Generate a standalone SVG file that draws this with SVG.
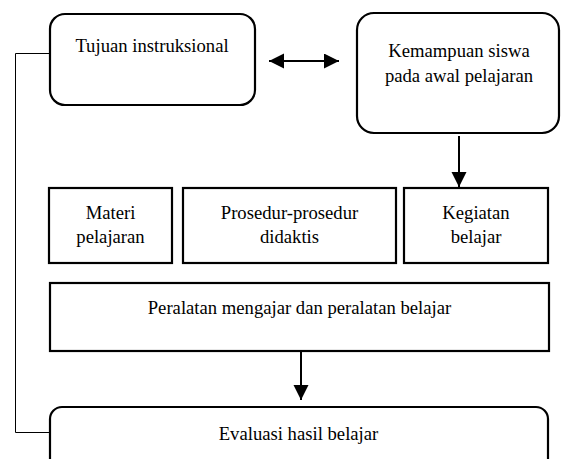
<svg xmlns="http://www.w3.org/2000/svg" width="562" height="459" viewBox="0 0 562 459">
<defs>
<style>
.box{fill:#fff;stroke:#000;stroke-width:2.2}
.t{font-family:"Liberation Serif","Times New Roman",serif;font-size:18.67px;fill:#000;text-anchor:middle}
.c{fill:none;stroke:#000;stroke-width:2}
.thin{fill:none;stroke:#000;stroke-width:1}
</style>
<marker id="ah" markerUnits="userSpaceOnUse" markerWidth="16" markerHeight="16" refX="15" refY="7.5" orient="auto-start-reverse" viewBox="0 0 16 16">
<path d="M0,0 L15,7.5 L0,15 Z" fill="#000"/>
</marker>
</defs>
<rect width="562" height="459" fill="#fff"/>
<g id="connectors">
<path class="thin" d="M50,53.5 H15.5 V432.5 H50"/>
<line class="c" x1="269" y1="61" x2="339" y2="61" marker-start="url(#ah)" marker-end="url(#ah)"/>
<line class="c" x1="459" y1="136" x2="459" y2="187" marker-end="url(#ah)"/>
<line class="c" x1="301" y1="351" x2="301" y2="400" marker-end="url(#ah)"/>
</g>
<g id="tujuan">
<rect class="box" x="50" y="14" width="205" height="91" rx="15"/>
<text class="t" x="152" y="52">Tujuan instruksional</text>
</g>
<g id="kemampuan">
<rect class="box" x="357" y="13" width="202" height="120" rx="17"/>
<text class="t" x="459" y="57">Kemampuan siswa</text>
<text class="t" x="459" y="82">pada awal pelajaran</text>
</g>
<g id="materi">
<rect class="box" x="49" y="188" width="123" height="75"/>
<text class="t" x="110.5" y="219">Materi</text>
<text class="t" x="110.5" y="243">pelajaran</text>
</g>
<g id="prosedur">
<rect class="box" x="183" y="188" width="213" height="75"/>
<text class="t" x="289.5" y="219">Prosedur-prosedur</text>
<text class="t" x="289.5" y="243">didaktis</text>
</g>
<g id="kegiatan">
<rect class="box" x="404" y="188" width="144" height="75"/>
<text class="t" x="476" y="219">Kegiatan</text>
<text class="t" x="476" y="243">belajar</text>
</g>
<g id="peralatan">
<rect class="box" x="50" y="283" width="499" height="68"/>
<text class="t" x="299.5" y="314">Peralatan mengajar dan peralatan belajar</text>
</g>
<g id="evaluasi">
<rect class="box" x="50" y="407" width="498" height="70" rx="12"/>
<text class="t" x="298.5" y="440">Evaluasi hasil belajar</text>
</g>
</svg>
